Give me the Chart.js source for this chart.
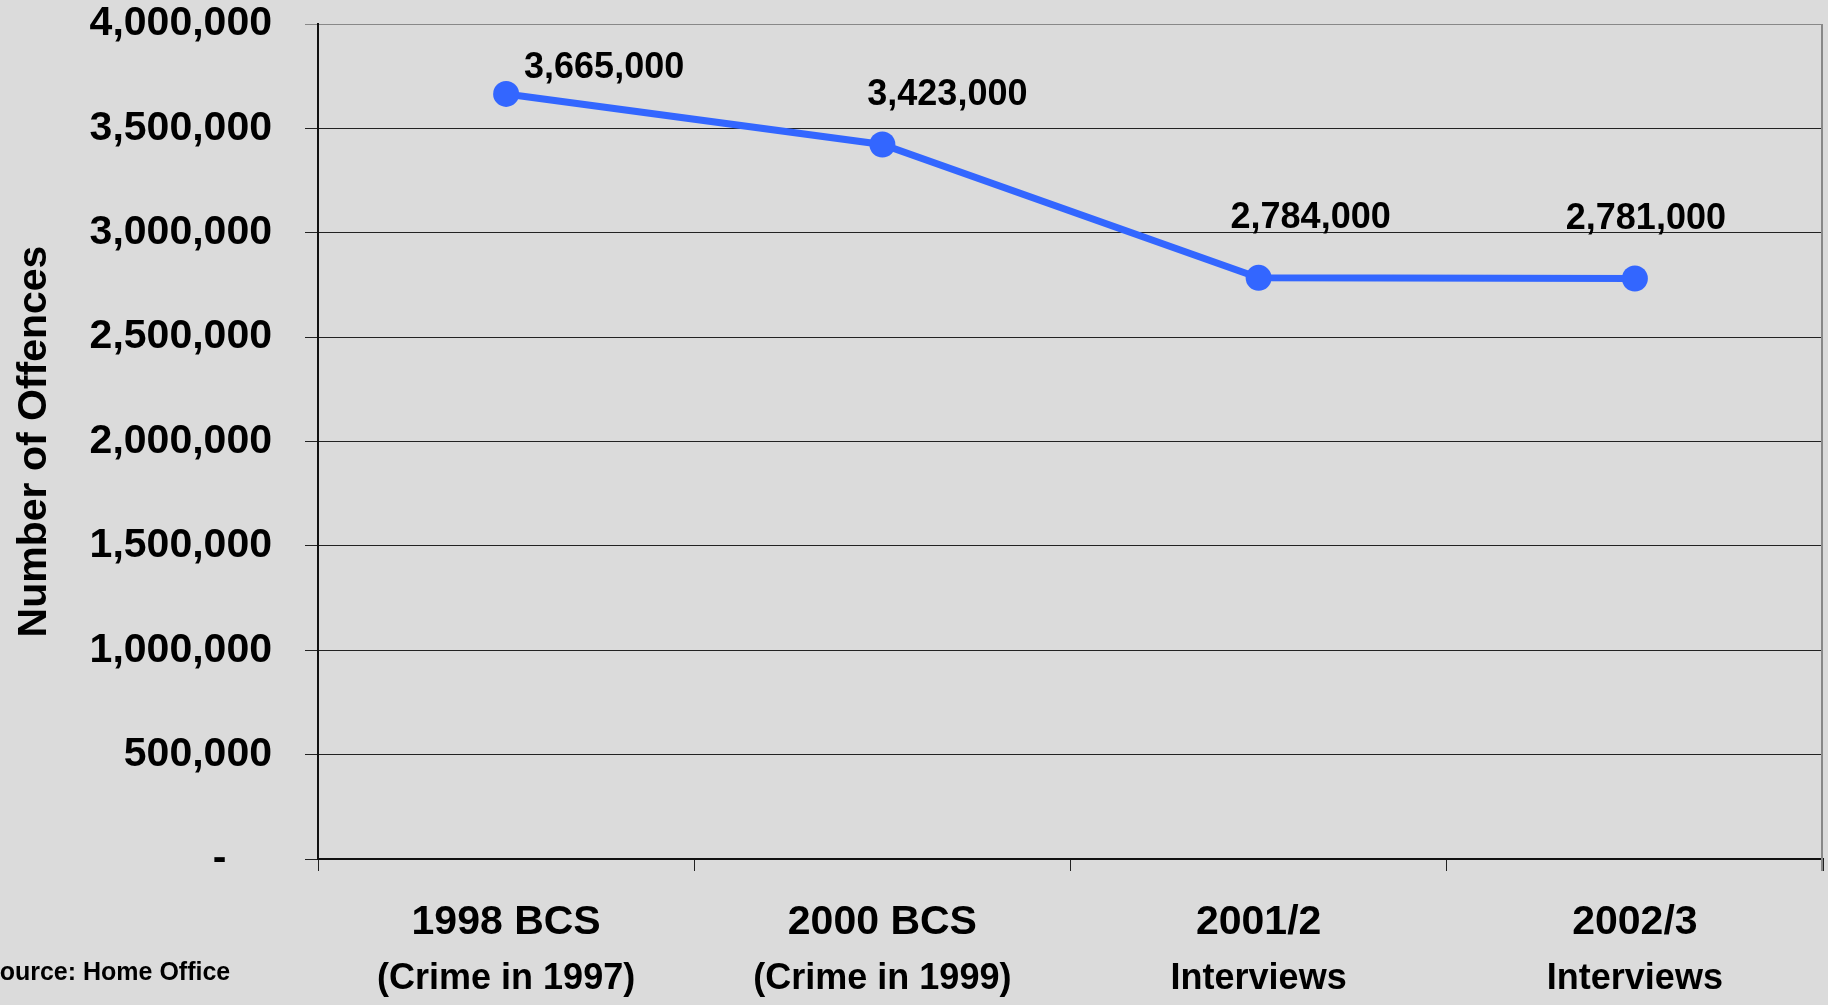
<!DOCTYPE html>
<html>
<head>
<meta charset="utf-8">
<script src="https://cdn.jsdelivr.net/npm/chart.js@4.4.1/dist/chart.umd.min.js"></script>
<style>
  html, body { margin: 0; padding: 0; background: #dbdbdb; }
  #wrap { width: 1828px; height: 1005px; }
</style>
</head>
<body>
<div id="wrap"><canvas id="canvasChart" width="1828" height="1005"></canvas></div>
<script>
var categories = ["1998 BCS", "2000 BCS", "2001/2", "2002/3"];
var subLabels = ["(Crime in 1997)", "(Crime in 1999)", "Interviews", "Interviews"];
var offences = [3665000, 3423000, 2784000, 2781000];
var yTicks = [0, 500000, 1000000, 1500000, 2000000, 2500000, 3000000, 3500000, 4000000];

var fontFamily = "'Liberation Sans', Arial, Helvetica, sans-serif";
// where each value label sits relative to its point
var labelShift = [[98, -26], [65, -49], [52, -60], [11, -59]];

var valueLabels = {
  id: "valueLabels",
  afterDatasetsDraw: function(chart) {
    var ctx = chart.ctx;
    var meta = chart.getDatasetMeta(0);
    ctx.save();
    ctx.font = "bold 36px " + fontFamily;
    ctx.fillStyle = "#000";
    ctx.textAlign = "center";
    ctx.textBaseline = "middle";
    meta.data.forEach(function(pt, i) {
      var v = chart.data.datasets[0].data[i];
      ctx.fillText(v.toLocaleString("en-US"), pt.x + labelShift[i][0], pt.y + labelShift[i][1]);
    });
    ctx.restore();
  }
};

var frame = {
  id: "frame",
  afterDraw: function(chart) {
    var ctx = chart.ctx;
    var a = chart.chartArea;
    ctx.save();
    ctx.strokeStyle = "#888";
    ctx.lineWidth = 2;
    ctx.beginPath();
    ctx.moveTo(a.right - 1, a.top);
    ctx.lineTo(a.right - 1, a.bottom + 12);
    ctx.stroke();
    ctx.font = "bold 25px " + fontFamily;
    ctx.fillStyle = "#000";
    ctx.textAlign = "left";
    ctx.textBaseline = "middle";
    ctx.fillText("Source: Home Office", -17, 973);
    ctx.restore();
  }
};

function noSidePadding(scale, h) {
  scale.height = h;
  scale.paddingLeft = 0;
  scale.paddingRight = 0;
}

var chart = new Chart(document.getElementById("canvasChart"), {
  type: "line",
  data: {
    labels: categories,
    datasets: [{
      data: offences,
      borderColor: "#3366ff",
      backgroundColor: "#3366ff",
      borderWidth: 7,
      pointRadius: 13,
      pointHoverRadius: 13,
      pointBorderWidth: 0,
      tension: 0,
      fill: false
    }]
  },
  options: {
    responsive: false,
    animation: false,
    layout: { autoPadding: false, padding: { left: 0, right: 5, top: 0, bottom: 5 } },
    plugins: {
      legend: { display: false },
      tooltip: { enabled: false }
    },
    scales: {
      x: {
        offset: true,
        weight: 0,
        afterFit: function(scale) { noSidePadding(scale, 87); },
        ticks: {
          color: "#000",
          font: { family: fontFamily, size: 41, weight: "bold" },
          padding: 27,
          maxRotation: 0,
          autoSkip: false
        },
        grid: { offset: true, drawOnChartArea: false, tickLength: 12, color: "#222", lineWidth: 1 },
        border: { color: "#111", width: 2 }
      },
      x2: {
        type: "category",
        labels: subLabels,
        position: "bottom",
        offset: true,
        weight: 1,
        afterFit: function(scale) { noSidePadding(scale, 54); },
        ticks: {
          color: "#000",
          font: { family: fontFamily, size: 36, weight: "bold" },
          padding: 11,
          maxRotation: 0,
          autoSkip: false
        },
        grid: { display: false, drawTicks: false, tickLength: 0 },
        border: { display: false }
      },
      y: {
        min: 0,
        max: 4000000,
        afterBuildTicks: function(scale) {
          scale.ticks = yTicks.map(function(v) { return { value: v }; });
        },
        afterFit: function(scale) {
          scale.width = 318;
          scale.paddingTop = 24;
          scale.paddingBottom = 24;
        },
        ticks: {
          color: "#000",
          font: { family: fontFamily, size: 41, weight: "bold" },
          padding: 33,
          callback: function(v) { return v === 0 ? "-    " : v.toLocaleString("en-US"); }
        },
        grid: {
          color: function(c) { return c.tick && c.tick.value === 4000000 ? "#888" : "#222"; },
          lineWidth: 1,
          tickLength: 13
        },
        border: { color: "#111", width: 2 },
        title: {
          display: true,
          text: "Number of Offences",
          color: "#000",
          font: { family: fontFamily, size: 41, weight: "bold" },
          padding: { top: 10, bottom: 0 }
        }
      }
    }
  },
  plugins: [valueLabels, frame]
});
</script>
</body>
</html>
